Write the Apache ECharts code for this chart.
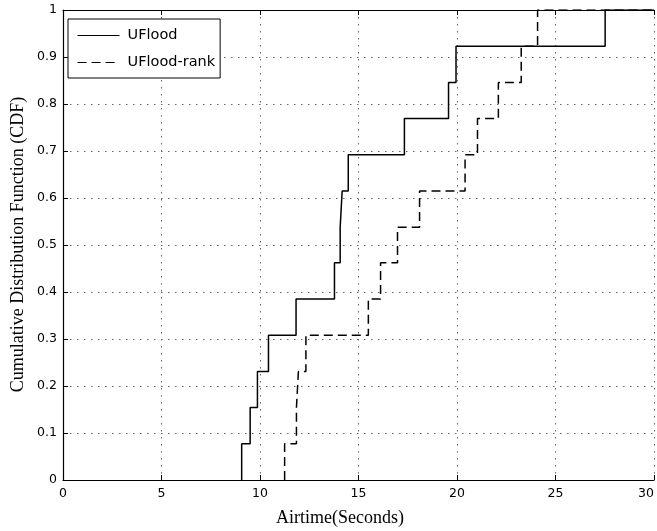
<!DOCTYPE html>
<html>
<head>
<meta charset="utf-8">
<script src="https://cdn.jsdelivr.net/npm/echarts@6/dist/echarts.min.js"></script>
<style>
html,body{margin:0;padding:0;background:#fff;}
#chart{width:657px;height:531px;}
</style>
</head>
<body>
<div id="chart"></div>
<script>
// CDF levels (13 samples)
const cdfLevels = [0.077, 0.154, 0.231, 0.308, 0.385, 0.462, 0.538, 0.615, 0.692, 0.769, 0.846, 0.923, 1.0];
// Airtime (s) at which each CDF step occurs
const ufloodTimes = [9.07, 9.5, 9.87, 10.43, 11.83, 13.78, 14.07, 14.17, 14.48, 17.33, 19.57, 19.95, 27.52];
const ufloodRankTimes = [11.25, 11.85, 11.95, 12.33, 15.5, 16.12, 16.98, 18.1, 20.41, 21.04, 22.1, 23.26, 24.09];
const seriesNames = ['UFlood', 'UFlood-rank'];
const xTickLabels = ['0', '5', '10', '15', '20', '25', '30'];
const yTickLabels = ['0', '0.1', '0.2', '0.3', '0.4', '0.5', '0.6', '0.7', '0.8', '0.9', '1'];
const xTitle = 'Airtime(Seconds)';
const yTitle = 'Cumulative Distribution Function (CDF)';

function stepData(times, levels, xMax) {
  const d = [[times[0], 0]];
  times.forEach((t, i) => d.push([t, levels[i]]));
  d.push([xMax, levels[levels.length - 1]]);
  return d;
}

const sans = 'DejaVu Sans';
const serif = 'Liberation Serif';
const chart = echarts.init(document.getElementById('chart'), null, {renderer: 'canvas'});

const option = {
  animation: false,
  backgroundColor: '#fff',
  grid: {left: 63, right: 1, top: 10, bottom: 51, containLabel: false},
  legend: {
    left: 68, top: 19, orient: 'vertical',
    data: seriesNames,
    itemWidth: 42, itemHeight: 14, itemGap: 12,
    padding: [9, 5, 8, 9],
    borderColor: '#000', borderWidth: 1,
    backgroundColor: '#fff',
    itemStyle: {opacity: 0},
    lineStyle: {width: 1.1},
    textStyle: {fontFamily: sans, fontSize: 14.5, color: '#000', padding: [0, 0, 0, 3]}
  },
  xAxis: [{
    type: 'value', min: 0, max: 30, interval: 5,
    axisLine: {lineStyle: {color: '#000', width: 1.2}},
    axisTick: {inside: true, length: 5, lineStyle: {color: '#000'}},
    axisLabel: {
      fontFamily: sans, fontSize: 12.5, color: '#000', margin: 7,
      alignMaxLabel: 'right',
      formatter: (v, i) => xTickLabels[i]
    },
    splitLine: {show: true, lineStyle: {color: '#666', width: 1, type: [1.5, 5.5]}}
  }, {
    type: 'value', min: 0, max: 30, interval: 5, position: 'top',
    axisLine: {show: true, lineStyle: {color: '#000', width: 1.2}},
    axisTick: {show: true, inside: true, length: 5, lineStyle: {color: '#000'}},
    axisLabel: {show: false},
    splitLine: {show: false}
  }],
  yAxis: [{
    type: 'value', min: 0, max: 1, interval: 0.1,
    axisLine: {show: true, lineStyle: {color: '#000', width: 1.2}},
    axisTick: {show: true, inside: true, length: 5, lineStyle: {color: '#000'}},
    axisLabel: {
      fontFamily: sans, fontSize: 12.5, color: '#000', margin: 6,
      formatter: (v, i) => yTickLabels[i]
    },
    splitLine: {show: true, lineStyle: {color: '#666', width: 1, type: [1.5, 5.5]}}
  }],
  graphic: [{
    type: 'text', x: 340, y: 518,
    style: {text: xTitle, font: '18px "' + serif + '"', fill: '#000', align: 'center', verticalAlign: 'middle'}
  }, {
    type: 'text', x: 18, y: 244.5, rotation: Math.PI / 2,
    style: {text: yTitle, font: '18px "' + serif + '"', fill: '#000', align: 'center', verticalAlign: 'middle'}
  }],
  series: [{
    name: seriesNames[0], type: 'line', step: 'end',
    showSymbol: false, symbol: 'none',
    data: stepData(ufloodTimes, cdfLevels, 30),
    lineStyle: {color: '#000', width: 1.5, type: 'solid'},
    itemStyle: {color: '#000'}
  }, {
    name: seriesNames[1], type: 'line', step: 'end',
    showSymbol: false, symbol: 'none',
    data: stepData(ufloodRankTimes, cdfLevels, 30),
    lineStyle: {color: '#000', width: 1.5, type: [9, 5]},
    itemStyle: {color: '#000'}
  }]
};
chart.setOption(option);
</script>
</body>
</html>
